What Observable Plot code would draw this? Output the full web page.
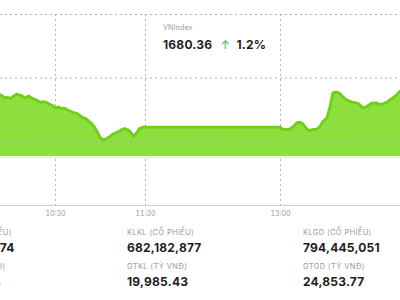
<!DOCTYPE html>
<html>
<head>
<meta charset="utf-8">
<script src="https://cdn.jsdelivr.net/npm/d3@7"></script>
<script src="https://cdn.jsdelivr.net/npm/@observablehq/plot@0.6"></script>
<style>
  html, body { margin: 0; padding: 0; background: #fff; }
  #wrap { position: relative; width: 400px; height: 300px; overflow: hidden; font-family: Inter, "Open Sans", sans-serif; }
  #chart svg { display: block; }
  .tip { position: absolute; left: 163px; top: 23px; white-space: nowrap; }
  .tip .lbl { font-size: 7px; color: #9a9a9a; line-height: 9px; letter-spacing: 0.2px; }
  .tip .val { font-size: 12px; font-weight: 700; color: #1e1e1e; line-height: 14px; margin-top: 6px; letter-spacing: 0.2px; }
  .tip .arrow { color: #2fbf71; margin: 0 6px 0 8px; font-weight: 400; }
  .col { position: absolute; width: 176px; white-space: nowrap; }
  .col .lbl { font-size: 7.5px; color: #9a9a9a; line-height: 9px; height: 9px; letter-spacing: 0.35px; }
  .col .val { font-size: 12px; font-weight: 700; color: #1e1e1e; line-height: 14px; margin-top: 4px; height: 14px; letter-spacing: 0.2px; }
  .col .lbl2 { margin-top: 7px; }
</style>
</head>
<body>
<div id="wrap">
  <div id="chart"></div>
  <div id="tip" class="tip"></div>
  <div id="stats"></div>
</div>
<script>
// ---- data ----
const morningTimes = ["09:50","09:52","09:54","09:56","09:58","10:00","10:02","10:04","10:05","10:07","10:09","10:10","10:12","10:14","10:16","10:18","10:20","10:22","10:24","10:26","10:28","10:30","10:32","10:34","10:36","10:38","10:40","10:42","10:44","10:46","10:48","10:50","10:52","10:54","10:56","10:58","11:00","11:02","11:04","11:06","11:08","11:10","11:12","11:14","11:16","11:18","11:20","11:22","11:24","11:26","11:28","11:30"];
const morningValues = [1667.2,1667.5,1667.3,1666.9,1667.0,1666.8,1667.2,1667.5,1667.4,1667.3,1667.0,1666.9,1667.2,1666.9,1666.7,1666.5,1666.2,1666.3,1666.2,1665.9,1665.7,1665.3,1665.5,1665.2,1665.3,1665.0,1664.8,1664.6,1664.5,1664.2,1663.8,1663.7,1663.3,1662.9,1662.3,1661.5,1660.6,1660.3,1660.5,1660.8,1661.2,1661.4,1661.6,1661.9,1662.1,1661.9,1661.6,1660.8,1661.4,1662.1,1662.3,1662.3];
const afternoonTimes = ["13:00","13:01","13:04","13:06","13:08","13:11","13:13","13:15","13:17","13:19","13:21","13:24","13:26","13:28","13:31","13:33","13:35","13:37","13:39","13:41","13:44","13:46","13:48","13:51","13:53","13:55","13:57","13:59","14:01","14:04","14:06","14:08","14:11","14:13","14:15","14:17","14:19","14:21"];
const afternoonValues = [1662.3,1662.0,1661.9,1662.0,1662.3,1663.0,1663.1,1662.8,1662.2,1661.7,1661.9,1662.0,1662.3,1663.1,1663.8,1665.5,1667.7,1667.8,1667.7,1667.2,1666.6,1666.4,1666.25,1666.1,1665.8,1665.3,1665.5,1665.8,1666.1,1666.1,1665.9,1665.9,1666.25,1666.6,1666.9,1667.3,1667.8,1668.2];
const tickLabels = ["10:30","11:30","13:00"];
const yGridValues = [1660, 1670, 1680];
const yDomain = [1650, 1680];
const xDomainTimes = ["09:53:20", "14:20:00"];
const areaBase = 1657.7;

const indexName = "VNIndex";
const indexValue = "1680.36";
const indexChange = "1.2%";

const statLabelsTop = ["KLTT (CỔ PHIẾU)", "KLKL (CỔ PHIẾU)", "KLGD (CỔ PHIẾU)"];
const statValuesTop = ["112,262,174", "682,182,877", "794,445,051"];
const statLabelsBottom = ["GTTT (TỶ VNĐ)", "GTKL (TỶ VNĐ)", "GTGD (TỶ VNĐ)"];
const statValuesBottom = ["4,868.34", "19,985.43", "24,853.77"];

// ---- build ----
function toDate(s) {
  const [h, m, sec] = s.split(":").map(Number);
  return new Date(Date.UTC(2025, 0, 2, h, m, sec || 0));
}
const series = [
  ...morningTimes.map((t, i) => ({time: toDate(t), value: morningValues[i]})),
  ...afternoonTimes.map((t, i) => ({time: toDate(t), value: afternoonValues[i]}))
];
const ticks = tickLabels.map(toDate);

const plot = Plot.plot({
  width: 400,
  height: 221,
  marginLeft: 0,
  marginRight: 0,
  marginTop: 14,
  marginBottom: 16,
  style: {fontFamily: "Inter, 'Open Sans', sans-serif", background: "transparent"},
  x: {type: "utc", domain: xDomainTimes.map(toDate), axis: null},
  y: {domain: yDomain, axis: null},
  marks: [
    Plot.gridX(ticks, {stroke: "#b5b5b5", strokeOpacity: 1, strokeDasharray: "2,3"}),
    Plot.ruleY([areaBase], {stroke: "#f4efc4", strokeWidth: 1.5, dy: 1}),
    Plot.areaY(series, {x: "time", y1: areaBase, y2: "value", fill: "#8ddf3e", clip: true}),
    Plot.lineY(series, {x: "time", y: "value", stroke: "#6ecf16", strokeWidth: 2.8, clip: true}),
    Plot.gridY(yGridValues, {stroke: "#a8a8a8", strokeOpacity: 0.9, strokeDasharray: "2,3"}),
    Plot.ruleY([yDomain[0]], {stroke: "#cfcfcf"}),
    Plot.axisX(ticks, {tickFormat: d3.utcFormat("%H:%M"), tickSize: 0, tickPadding: 5.5, fontSize: 7, color: "#9a9a9a"})
  ]
});
document.getElementById("chart").appendChild(plot);

document.getElementById("tip").innerHTML =
  `<div class="lbl">${indexName}</div><div class="val">${indexValue}<span class="arrow">↑</span>${indexChange}</div>`;

const colLefts = [-55, 127, 303];
const stats = document.getElementById("stats");
statLabelsTop.forEach((lab, i) => {
  const d = document.createElement("div");
  d.className = "col";
  d.style.left = colLefts[i] + "px";
  d.style.top = "228px";
  d.innerHTML = `<div class="lbl">${lab}</div><div class="val">${statValuesTop[i]}</div>` +
    `<div class="lbl lbl2">${statLabelsBottom[i]}</div><div class="val">${statValuesBottom[i]}</div>`;
  stats.appendChild(d);
});
</script>
</body>
</html>
